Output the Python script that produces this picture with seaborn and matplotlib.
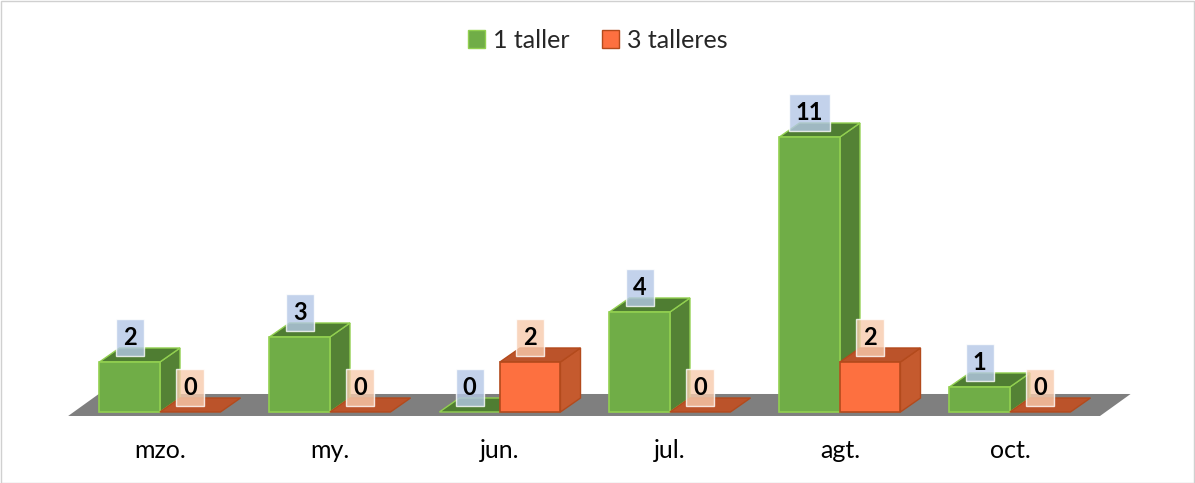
import pandas as pd
import matplotlib.pyplot as plt
import seaborn as sns
from matplotlib.patches import Polygon, Rectangle

# Data
meses = ['mzo.', 'my.', 'jun.', 'jul.', 'agt.', 'oct.']
un_taller = [2, 3, 0, 4, 11, 1]
tres_talleres = [0, 0, 2, 0, 2, 0]
series = ['1 taller', '3 talleres']

df = pd.DataFrame({
    'mes': meses * 2,
    'n': un_taller + tres_talleres,
    'serie': [series[0]] * len(meses) + [series[1]] * len(meses),
})

front = {'1 taller': '#70ad47', '3 talleres': '#fd7040'}
edge = {'1 taller': '#92d050', '3 talleres': '#b34a1c'}
side = {'1 taller': '#548235', '3 talleres': '#c55a2e'}
top = {'1 taller': '#4f7d32', '3 talleres': '#bb532a'}
label_bg = {'1 taller': '#b4c7e7', '3 talleres': '#f8cbad'}

sns.set_theme(style='white')
plt.rcParams['font.family'] = ['Lato', 'DejaVu Sans']

fig = plt.figure(figsize=(11.95, 4.83), dpi=100)
ax = fig.add_axes([0.0485, 0.1315, 0.9033, 0.6366])

sns.barplot(data=df, x='mes', y='n', hue='serie', palette=front,
            width=0.712, ax=ax, legend=False, saturation=1)

dx, dy = 0.118, 0.56

# grey floor
floor = Polygon([(-0.54, -0.16), (5.53, -0.16), (5.71, 0.72), (-0.36, 0.72)],
                closed=True, facecolor='#7f7f7f', edgecolor='none', zorder=1)
ax.add_patch(floor)

for i, (cont, s) in enumerate(zip(ax.containers, series)):
    z = 2 + i
    for p in cont.patches:
        x0, w, h = p.get_x(), p.get_width(), p.get_height()
        p.set_zorder(z + 0.5)
        p.set_edgecolor(edge[s])
        p.set_linewidth(1.2 if h > 0 else 0)
        right = Polygon([(x0 + w, 0), (x0 + w + dx, dy), (x0 + w + dx, h + dy), (x0 + w, h)],
                        closed=True, facecolor=side[s], edgecolor=edge[s], lw=1.0, zorder=z)
        roof = Polygon([(x0, h), (x0 + dx, h + dy), (x0 + w + dx, h + dy), (x0 + w, h)],
                       closed=True, facecolor=top[s], edgecolor=edge[s], lw=1.0, zorder=z + 0.2)
        if h > 0:
            ax.add_patch(right)
        ax.add_patch(roof)
        ax.text(x0 + w / 2, h + 0.97, f'{int(h)}', ha='center', va='center',
                fontsize=17, fontweight='bold', color='black', zorder=10,
                bbox=dict(boxstyle='square,pad=0.3', facecolor=label_bg[s],
                          edgecolor='white', alpha=0.8, lw=1))

ax.set_xlim(-0.6, 5.75)
ax.set_ylim(-0.3, 12)
ax.set_xlabel('')
ax.set_ylabel('')
ax.set_yticks([])
ax.tick_params(axis='x', length=0, pad=14, labelsize=18, labelcolor='#000000')
for sp in ax.spines.values():
    sp.set_visible(False)
ax.patch.set_alpha(0)

handles = [Rectangle((0, 0), 1, 1, facecolor=front[s], edgecolor=edge[s], lw=1) for s in series]
fig.legend(handles, series, loc='center', bbox_to_anchor=(0.5, 0.917), ncol=2, frameon=False,
           fontsize=18, handlelength=0.7, handleheight=0.7, handletextpad=0.3, columnspacing=1.3)

fig.patches.append(Rectangle((0.001, 0.001), 0.998, 0.997, transform=fig.transFigure,
                             fill=False, edgecolor='#d0d0d0', lw=1))

fig.savefig('out.png', dpi=100)
